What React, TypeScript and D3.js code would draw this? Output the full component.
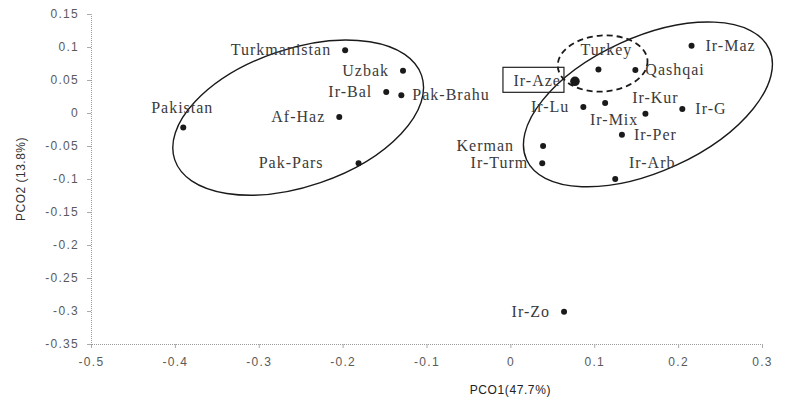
import React, { useRef, useEffect } from 'react';
import * as d3 from 'd3';

// PCO scores
const populations = [
  'Turkmanistan', 'Uzbak', 'Ir-Bal', 'Pak-Brahu', 'Af-Haz', 'Pakistan', 'Pak-Pars',
  'Turkey', 'Qashqai', 'Ir-Aze', 'Ir-Maz', 'Ir-Lu', 'Ir-Mix', 'Ir-Kur', 'Ir-G',
  'Ir-Per', 'Kerman', 'Ir-Turm', 'Ir-Arb', 'Ir-Zo',
];
const pco1 = [
  -0.197, -0.128, -0.148, -0.130, -0.204, -0.390, -0.181,
  0.105, 0.149, 0.077, 0.216, 0.087, 0.113, 0.161, 0.205,
  0.133, 0.039, 0.038, 0.125, 0.064,
];
const pco2 = [
  0.095, 0.064, 0.032, 0.027, -0.006, -0.022, -0.076,
  0.066, 0.065, 0.048, 0.102, 0.009, 0.015, -0.001, 0.006,
  -0.033, -0.050, -0.076, -0.100, -0.301,
];

const xTicks = [-0.5, -0.4, -0.3, -0.2, -0.1, 0, 0.1, 0.2, 0.3];
const yTicks = [0.15, 0.1, 0.05, 0, -0.05, -0.1, -0.15, -0.2, -0.25, -0.3, -0.35];

// group outlines (centre in PCO units, radii in PCO1 units, tilt in degrees)
const groupCx = [-0.253, 0.164, 0.110];
const groupCy = [-0.007, 0.013, 0.075];
const groupA = [0.1555, 0.159, 0.0536];
const groupB = [0.0819, 0.080, 0.0334];
const groupTilt = [-18.9, -24.5, -4];
const groupDashed = [false, false, true];

// where each label sits relative to its dot: [anchor, dx, dy]
const labelPos: Record<string, [string, number, number]> = {
  'Pakistan': ['middle', -1, -15],
  'Turkey': ['middle', 8, -14],
  'Ir-Kur': ['middle', 10, -11],
  'Ir-Mix': ['middle', 9, 22],
  'Ir-Arb': ['middle', 37, -11],
  'Ir-Aze': ['end', -14, 5],
  'Pak-Pars': ['end', -35, 5],
  'Kerman': ['end', -29, 5],
  'Pak-Brahu': ['start', 11, 5],
  'Qashqai': ['start', 10, 5],
  'Ir-Maz': ['start', 14, 5],
  'Ir-G': ['start', 13, 5],
  'Ir-Per': ['start', 12, 5],
};

const W = 789;
const H = 398;
const margin = { left: 91, right: 27, top: 14, bottom: 54 };

const App: React.FC = () => {
  const svgRef = useRef<SVGSVGElement | null>(null);

  useEffect(() => {
    if (!svgRef.current) return;
    const svg = d3.select(svgRef.current);
    svg.selectAll('*').remove();

    const x = d3.scaleLinear().domain([-0.5, 0.3]).range([margin.left, W - margin.right]);
    const y = d3.scaleLinear().domain([-0.35, 0.15]).range([H - margin.bottom, margin.top]);
    const fmt = (d: d3.NumberValue) => String(+(+d).toFixed(2));

    const xAxis = svg.append('g')
      .attr('transform', `translate(0,${y(-0.35)})`)
      .call(d3.axisBottom(x).tickValues(xTicks).tickFormat(fmt).tickSize(4).tickPadding(9));
    const yAxis = svg.append('g')
      .attr('transform', `translate(${x(-0.5)},0)`)
      .call(d3.axisLeft(y).tickValues(yTicks).tickFormat(fmt).tickSize(4).tickPadding(8));

    [xAxis, yAxis].forEach(ax => {
      ax.select('.domain').attr('stroke', '#9a9a9a').attr('stroke-dasharray', '1,1');
      ax.selectAll('.tick line').attr('stroke', '#aaa');
      ax.selectAll('.tick text')
        .attr('fill', '#5a5a5a')
        .style('font-family', '"Liberation Sans", Arial, sans-serif')
        .style('font-size', '12px')
        .style('letter-spacing', '1.3px');
    });

    // axis titles
    svg.append('text')
      .attr('x', x(0))
      .attr('y', 394)
      .attr('text-anchor', 'middle')
      .attr('fill', '#222')
      .style('font-family', '"Liberation Sans", Arial, sans-serif')
      .style('font-size', '12px')
      .style('letter-spacing', '0.6px')
      .text('PCO1(47.7%)');
    svg.append('text')
      .attr('transform', `translate(25,${y(-0.1)}) rotate(-90)`)
      .attr('text-anchor', 'middle')
      .attr('fill', '#333')
      .style('font-family', '"Liberation Sans", Arial, sans-serif')
      .style('font-size', '12px')
      .style('letter-spacing', '0.5px')
      .text('PCO2 (13.8%)');

    // ellipses around groups
    const unit = x(1) - x(0);
    groupCx.forEach((cx, i) => {
      svg.append('ellipse')
        .attr('transform', `translate(${x(cx)},${y(groupCy[i])}) rotate(${groupTilt[i]})`)
        .attr('rx', groupA[i] * unit)
        .attr('ry', groupB[i] * unit)
        .attr('fill', 'none')
        .attr('stroke', '#1a1a1a')
        .attr('stroke-width', groupDashed[i] ? 1.8 : 1.4)
        .attr('stroke-dasharray', groupDashed[i] ? '6,4' : null);
    });

    const pts = populations.map((name, i) => ({ name, px: pco1[i], py: pco2[i] }));

    // box around Ir-Aze label
    const aze = pts.find(p => p.name === 'Ir-Aze')!;
    svg.append('rect')
      .attr('x', x(aze.px) - 72)
      .attr('y', y(aze.py) - 14)
      .attr('width', 61)
      .attr('height', 25)
      .attr('fill', 'none')
      .attr('stroke', '#222')
      .attr('stroke-width', 1.2);

    svg.append('g').selectAll('circle')
      .data(pts)
      .enter().append('circle')
      .attr('cx', d => x(d.px))
      .attr('cy', d => y(d.py))
      .attr('r', d => d.name === 'Ir-Aze' ? 4.8 : 3)
      .attr('fill', '#1a1a1a');

    svg.append('g').selectAll('text')
      .data(pts)
      .enter().append('text')
      .attr('x', d => x(d.px) + (labelPos[d.name] ? labelPos[d.name][1] : -14))
      .attr('y', d => y(d.py) + (labelPos[d.name] ? labelPos[d.name][2] : 5))
      .attr('text-anchor', d => labelPos[d.name] ? labelPos[d.name][0] : 'end')
      .attr('fill', '#3a3a3a')
      .style('font-family', '"Liberation Serif", "Times New Roman", serif')
      .style('font-size', '16px')
      .style('letter-spacing', '1px')
      .text(d => d.name);
  }, []);

  return (
    <svg ref={svgRef} width={W} height={H}
      style={{ position: 'absolute', left: 0, top: 0, background: '#fff' }} />
  );
};

export default App;
